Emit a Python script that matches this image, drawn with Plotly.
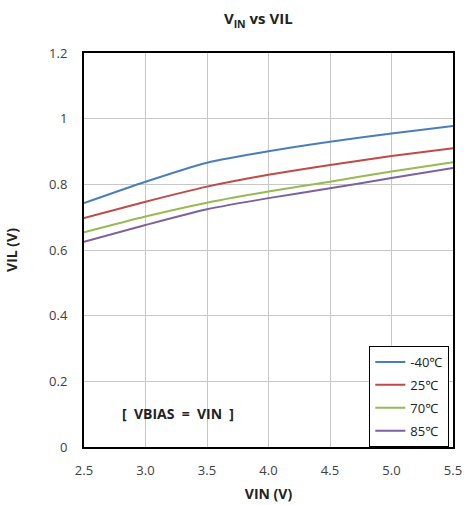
import plotly.graph_objects as go

vin = [2.5, 3.0, 3.5, 4.0, 4.5, 5.0, 5.5]
vil_m40 = [0.743, 0.808, 0.866, 0.901, 0.930, 0.955, 0.978]
vil_25 = [0.697, 0.747, 0.793, 0.829, 0.859, 0.886, 0.910]
vil_70 = [0.654, 0.702, 0.744, 0.778, 0.808, 0.839, 0.867]
vil_85 = [0.625, 0.676, 0.724, 0.758, 0.788, 0.819, 0.850]
names = ["-40℃", "25℃", "70℃", "85℃"]
colors = ["#4a7ebb", "#be4b48", "#98b954", "#7d60a0"]

fig = go.Figure()
for name, ys, c in zip(names, [vil_m40, vil_25, vil_70, vil_85], colors):
    fig.add_trace(go.Scatter(x=vin, y=ys, name=name, mode="lines", legendgroup=name,
                             line=dict(color=c, width=2, shape="spline", smoothing=0.6)))

font = "Open Sans, Noto Sans, sans-serif"
fig.update_layout(
    width=467, height=505,
    margin=dict(l=84, r=14, t=53, b=58, autoexpand=False),
    paper_bgcolor="white", plot_bgcolor="white",
    font=dict(family=font, size=13, color="#404040"),
    title=dict(text="<b>V<sub>IN</sub> vs VIL</b>", x=0.553, xanchor="center", y=0.962, yanchor="middle",
               font=dict(size=15, color="#222")),
    xaxis=dict(range=[2.5, 5.5], tickvals=vin, tickformat=".1f", showgrid=True, gridcolor="#c8c8c8",
               gridwidth=1, showline=True, linecolor="black", linewidth=2, mirror=True,
               ticks="outside", ticklen=10, tickcolor="rgba(0,0,0,0)", zeroline=False, automargin=False,
               title=dict(text="<b>VIN (V)</b>", font=dict(size=14, color="#222"), standoff=12)),
    yaxis=dict(range=[0, 1.2], tickvals=[0, 0.2, 0.4, 0.6, 0.8, 1.0, 1.2], showgrid=True, gridcolor="#c8c8c8",
               gridwidth=1, showline=True, linecolor="black", linewidth=2, mirror=True,
               ticks="outside", ticklen=12, tickcolor="rgba(0,0,0,0)", zeroline=False, automargin=False,
               title=dict(text="<b>VIL (V)</b>", font=dict(size=14, color="#222"), standoff=28)),
    legend=dict(x=0.99, y=0.0, xanchor="right", yanchor="bottom", bgcolor="white",
                bordercolor="black", borderwidth=1, font=dict(size=13, color="#222"),
                tracegroupgap=3, itemwidth=30),
    showlegend=True,
)
fig.add_annotation(text="<b>[  VBIAS  =  VIN  ]</b>", x=0.255, y=0.086, xref="paper", yref="paper",
                   xanchor="center", yanchor="middle", showarrow=False,
                   font=dict(size=14, color="#222", family=font))
fig.write_html("out.html")
